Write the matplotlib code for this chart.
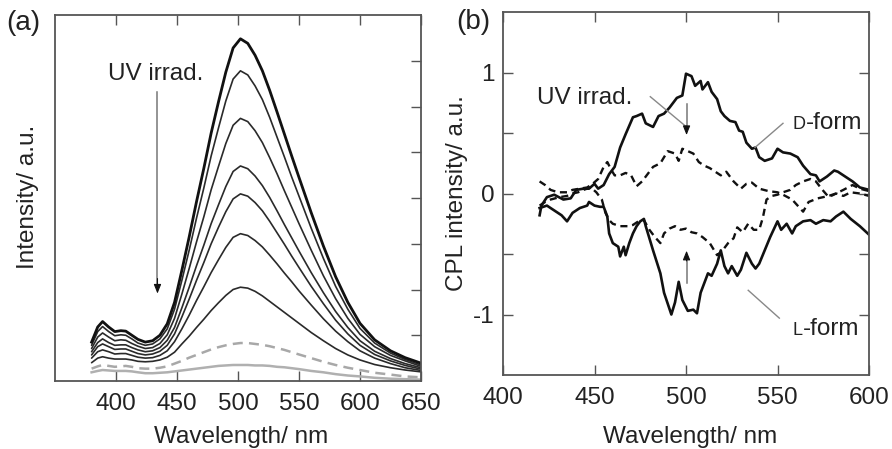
import matplotlib
matplotlib.use("Agg")
import matplotlib.pyplot as plt

plt.rcParams['font.family'] = ['Liberation Sans', 'DejaVu Sans']

# ---------------- Panel (a): emission spectra ----------------
WL_A = [380, 385, 389, 394, 399, 404, 408, 413, 418, 424, 430, 436, 442, 448, 454,
        460, 466, 472, 478, 484, 490, 496, 502, 508, 514, 520, 526, 532, 538, 544,
        550, 560, 570, 580, 590, 600, 612, 625, 637, 650]

I0 = [0.85, 1.18, 1.30, 1.18, 1.08, 1.10, 1.09, 1.00, 0.91, 0.85, 0.88, 1.00, 1.25, 1.72, 2.42,
      3.15, 3.92, 4.65, 5.42, 6.10, 6.75, 7.28, 7.48, 7.38, 7.12, 6.78, 6.35, 5.88, 5.40, 4.92,
      4.45, 3.68, 2.95, 2.28, 1.72, 1.26, 0.90, 0.66, 0.51, 0.39]
I1 = [0.78, 1.08, 1.19, 1.08, 0.99, 1.01, 1.00, 0.92, 0.83, 0.78, 0.81, 0.92, 1.14, 1.57, 2.20,
      2.86, 3.56, 4.22, 4.92, 5.53, 6.12, 6.60, 6.78, 6.69, 6.45, 6.15, 5.76, 5.33, 4.90, 4.46,
      4.04, 3.34, 2.68, 2.07, 1.57, 1.15, 0.83, 0.61, 0.47, 0.35]
I2 = [0.71, 0.96, 1.05, 0.96, 0.88, 0.90, 0.89, 0.82, 0.76, 0.71, 0.73, 0.82, 1.01, 1.37, 1.90,
      2.46, 3.04, 3.59, 4.18, 4.69, 5.19, 5.59, 5.74, 5.67, 5.47, 5.21, 4.88, 4.53, 4.16, 3.80,
      3.44, 2.86, 2.30, 1.80, 1.37, 1.02, 0.75, 0.56, 0.44, 0.32]
I3 = [0.64, 0.84, 0.92, 0.84, 0.78, 0.79, 0.79, 0.73, 0.68, 0.64, 0.66, 0.73, 0.89, 1.17, 1.60,
      2.05, 2.52, 2.97, 3.44, 3.85, 4.25, 4.58, 4.70, 4.64, 4.48, 4.27, 4.01, 3.72, 3.42, 3.13,
      2.84, 2.37, 1.93, 1.52, 1.17, 0.88, 0.65, 0.49, 0.38, 0.29]
I4 = [0.57, 0.75, 0.81, 0.75, 0.69, 0.70, 0.70, 0.65, 0.60, 0.57, 0.59, 0.65, 0.78, 1.03, 1.40,
      1.79, 2.20, 2.59, 3.00, 3.36, 3.70, 3.98, 4.09, 4.04, 3.90, 3.72, 3.49, 3.24, 2.99, 2.73,
      2.48, 2.07, 1.69, 1.33, 1.03, 0.78, 0.58, 0.44, 0.34, 0.26]
I5 = [0.50, 0.64, 0.68, 0.64, 0.59, 0.60, 0.60, 0.56, 0.52, 0.50, 0.51, 0.56, 0.66, 0.86, 1.14,
      1.44, 1.76, 2.06, 2.37, 2.65, 2.92, 3.14, 3.22, 3.18, 3.07, 2.93, 2.75, 2.56, 2.36, 2.17,
      1.97, 1.66, 1.36, 1.09, 0.86, 0.66, 0.50, 0.38, 0.29, 0.23]
I6 = [0.40, 0.50, 0.53, 0.50, 0.48, 0.48, 0.48, 0.46, 0.43, 0.42, 0.43, 0.46, 0.52, 0.63, 0.81,
      0.98, 1.17, 1.35, 1.54, 1.71, 1.87, 2.00, 2.05, 2.03, 1.96, 1.86, 1.74, 1.62, 1.50, 1.38,
      1.26, 1.06, 0.88, 0.71, 0.57, 0.46, 0.36, 0.29, 0.24, 0.20]
I7_DASHED = [0.27, 0.32, 0.35, 0.33, 0.31, 0.32, 0.33, 0.31, 0.28, 0.27, 0.27, 0.29, 0.32, 0.38, 0.44,
             0.51, 0.57, 0.63, 0.69, 0.74, 0.78, 0.81, 0.83, 0.83, 0.81, 0.79, 0.76, 0.72, 0.68, 0.63,
             0.58, 0.50, 0.42, 0.35, 0.29, 0.24, 0.18, 0.14, 0.10, 0.08]
I8_GRAY = [0.19, 0.22, 0.24, 0.23, 0.22, 0.22, 0.22, 0.21, 0.19, 0.17, 0.17, 0.18, 0.19, 0.21, 0.23,
           0.25, 0.27, 0.29, 0.31, 0.33, 0.34, 0.35, 0.35, 0.35, 0.34, 0.34, 0.33, 0.31, 0.30, 0.28,
           0.26, 0.22, 0.19, 0.15, 0.12, 0.10, 0.07, 0.05, 0.04, 0.03]

XTICKS_A = [400, 450, 500, 550, 600, 650]

# ---------------- Panel (b): CPL spectra ----------------
D_WL = [420, 421, 424, 428, 433, 437, 440, 444, 447, 450, 452, 455, 458, 461, 464, 467, 471, 473,
        476, 478, 482, 485, 488, 491, 495, 498, 500, 503, 505, 508, 509, 512, 514, 517, 519, 521,
        524, 527, 529, 531, 533, 536, 538, 540, 543, 547, 550, 553, 557, 561, 564, 568, 571, 573,
        577, 581, 583, 587, 591, 595, 600]
D_CPL = [-0.18, -0.10, -0.03, -0.01, -0.05, -0.04, 0.03, 0.04, 0.04, 0.08, 0.04, 0.07, 0.16, 0.22,
         0.38, 0.49, 0.63, 0.64, 0.66, 0.58, 0.55, 0.64, 0.66, 0.71, 0.79, 0.81, 0.99, 0.97, 0.89,
         0.93, 0.86, 0.92, 0.84, 0.78, 0.68, 0.64, 0.60, 0.59, 0.52, 0.51, 0.42, 0.37, 0.38, 0.30,
         0.27, 0.29, 0.37, 0.34, 0.33, 0.30, 0.23, 0.16, 0.15, 0.10, 0.14, 0.19, 0.18, 0.14, 0.10,
         0.05, 0.03]

L_WL = [420, 424, 428, 432, 435, 438, 442, 446, 447, 450, 453, 455, 457, 458, 460, 463, 464, 466,
        467, 469, 471, 473, 475, 477, 478, 482, 486, 488, 492, 494, 496, 498, 501, 504, 506, 508,
        510, 512, 514, 517, 519, 521, 523, 525, 528, 530, 533, 536, 538, 540, 543, 546, 550, 552,
        555, 558, 560, 564, 568, 571, 575, 579, 582, 586, 590, 595, 600]
L_CPL = [-0.12, -0.10, -0.14, -0.18, -0.23, -0.16, -0.12, -0.10, -0.07, -0.10, -0.11, -0.11, -0.19,
         -0.33, -0.41, -0.44, -0.52, -0.44, -0.51, -0.41, -0.33, -0.27, -0.23, -0.21, -0.27, -0.47,
         -0.66, -0.82, -1.00, -0.90, -0.73, -0.88, -0.97, -0.96, -0.99, -0.82, -0.74, -0.66, -0.68,
         -0.58, -0.47, -0.60, -0.66, -0.60, -0.68, -0.63, -0.49, -0.58, -0.62, -0.58, -0.47, -0.36,
         -0.23, -0.30, -0.25, -0.33, -0.27, -0.23, -0.22, -0.25, -0.22, -0.23, -0.19, -0.15, -0.21,
         -0.27, -0.34]

D_UV_WL = [420, 423, 426, 430, 435, 438, 442, 446, 449, 452, 455, 457, 459, 461, 464, 467, 470, 473,
           476, 478, 482, 486, 490, 494, 496, 498, 501, 504, 507, 510, 513, 516, 519, 522, 526, 530,
           533, 536, 540, 545, 550, 553, 558, 561, 564, 567, 572, 578, 582, 586, 591, 595, 600]
D_UV_CPL = [0.10, 0.07, 0.03, 0.01, 0.01, 0.03, 0.04, 0.05, 0.08, 0.12, 0.22, 0.26, 0.20, 0.15, 0.15,
            0.17, 0.15, 0.06, 0.10, 0.14, 0.22, 0.25, 0.35, 0.33, 0.27, 0.37, 0.35, 0.33, 0.26, 0.23,
            0.21, 0.18, 0.15, 0.18, 0.10, 0.04, 0.08, 0.09, 0.04, 0.02, 0.01, -0.01, -0.05, -0.10,
            -0.15, -0.07, -0.04, -0.02, 0.00, 0.03, 0.07, 0.04, 0.02]

L_UV_WL = [420, 423, 426, 431, 435, 438, 441, 444, 448, 451, 454, 456, 458, 460, 464, 468, 471, 474,
           477, 480, 483, 486, 488, 491, 494, 497, 500, 503, 506, 509, 513, 517, 520, 523, 526, 528,
           531, 534, 537, 540, 542, 544, 547, 550, 553, 557, 560, 564, 568, 571, 574, 578, 582, 586,
           590, 595, 600]
L_UV_CPL = [-0.10, -0.07, -0.05, -0.03, -0.02, 0.00, 0.01, 0.03, 0.05, 0.01, -0.05, -0.16, -0.22,
            -0.25, -0.27, -0.27, -0.26, -0.23, -0.22, -0.30, -0.36, -0.41, -0.33, -0.29, -0.27,
            -0.30, -0.29, -0.32, -0.33, -0.36, -0.41, -0.51, -0.47, -0.41, -0.37, -0.28, -0.32,
            -0.25, -0.30, -0.30, -0.20, -0.05, -0.02, -0.01, 0.01, 0.03, 0.07, 0.10, 0.12, 0.10,
            0.04, -0.03, 0.00, -0.02, 0.01, 0.00, -0.02]

XTICKS_B = [400, 450, 500, 550, 600]
YTICKS_B = [-1, -0.5, 0, 0.5, 1]
YLABELS_B = ['-1', '', '0', '', '1']

FS = 17.5
TXT = '#222222'
SPINE = '#555555'

fig = plt.figure(figsize=(8.92, 4.49), dpi=100)
ax1 = fig.add_axes([55 / 892, 1 - 381 / 449, 366 / 892, 366 / 449])
ax2 = fig.add_axes([503 / 892, 1 - 375 / 449, 366 / 892, 363 / 449])

# ---- panel (a)
black_series = [I1, I2, I3, I4, I5, I6]
for s in black_series:
    ax1.plot(WL_A, s, color='#2a2a2a', lw=1.2, solid_capstyle='round')
ax1.plot(WL_A, I0, color='#111111', lw=2.0)
ax1.plot(WL_A, I7_DASHED, color='#a8a8a8', lw=1.8, dashes=(4, 2.5))
ax1.plot(WL_A, I8_GRAY, color='#b0b0b0', lw=1.8)

ax1.set_xlim(350, 650)
ax1.set_ylim(0, 8)
ax1.set_xticks(XTICKS_A)
ax1.set_xticklabels([str(v) for v in XTICKS_A])
ax1.set_yticks(range(1, 8))
ax1.tick_params(axis='x', direction='in', length=7, width=1, colors=SPINE,
                labelcolor=TXT, labelsize=FS, top=True, bottom=True, pad=9)
ax1.tick_params(axis='y', direction='in', length=7, width=1, colors=SPINE,
                left=False, right=True, labelleft=False)
for sp in ax1.spines.values():
    sp.set_color(SPINE)
    sp.set_linewidth(1.3)

# UV arrow in (a)
ax1.plot([434, 434], [6.32, 2.1], color='#777777', lw=1.1)
ax1.annotate('', xy=(434, 1.85), xytext=(434, 2.3),
             arrowprops=dict(arrowstyle='-|>,head_length=0.55,head_width=0.22',
                             color='#111111', lw=0.8))
ax1.text(393.5, 6.72, 'UV irrad.', fontsize=FS, color=TXT, ha='left', va='center')

# ---- panel (b)
ax2.plot(D_WL, D_CPL, color='#111111', lw=1.9)
ax2.plot(L_WL, L_CPL, color='#111111', lw=1.9)
ax2.plot(D_UV_WL, D_UV_CPL, color='#111111', lw=1.7, dashes=(3, 2))
ax2.plot(L_UV_WL, L_UV_CPL, color='#111111', lw=1.7, dashes=(3, 2))

ax2.set_xlim(400, 600)
ax2.set_ylim(-1.5, 1.5)
ax2.set_xticks(XTICKS_B)
ax2.set_xticklabels([str(v) for v in XTICKS_B])
ax2.set_yticks(YTICKS_B)
ax2.set_yticklabels(YLABELS_B)
ax2.tick_params(axis='x', direction='in', length=7, width=1, colors=SPINE,
                labelcolor=TXT, labelsize=FS, top=True, bottom=True, pad=9)
ax2.tick_params(axis='y', direction='in', length=7, width=1, colors=SPINE,
                labelcolor=TXT, labelsize=FS, left=True, right=True, pad=6)
for sp in ax2.spines.values():
    sp.set_color(SPINE)
    sp.set_linewidth(1.3)

# annotations in (b)
ax2.text(418.5, 0.79, 'UV irrad.', fontsize=FS, color=TXT, ha='left', va='center')
ax2.plot([480.5, 499.5], [0.80, 0.56], color='#888888', lw=1.0)
ax2.plot([500.3, 500.3], [0.74, 0.55], color='#777777', lw=1.1)
ax2.annotate('', xy=(500.3, 0.46), xytext=(500.3, 0.58),
             arrowprops=dict(arrowstyle='-|>,head_length=0.55,head_width=0.22',
                             color='#111111', lw=0.8))
ax2.plot([500.3, 500.3], [-0.74, -0.56], color='#777777', lw=1.1)
ax2.annotate('', xy=(500.3, -0.45), xytext=(500.3, -0.58),
             arrowprops=dict(arrowstyle='-|>,head_length=0.55,head_width=0.22',
                             color='#111111', lw=0.8))

ax2.plot([553, 537.7], [0.58, 0.38], color='#888888', lw=1.0)
ax2.plot([534, 551], [-0.80, -1.03], color='#888888', lw=1.0)

# small-caps "D-form" and "L-form"
SC = FS * 0.74
for letter, yb in (('D', 0.53), ('L', -1.17)):
    ax2.text(558.0, yb, letter, fontsize=SC, color=TXT, ha='left', va='baseline')
    w = (0.722 if letter == 'D' else 0.556) * SC
    ax2.annotate('-form', xy=(558.0, yb), xytext=(w + 0.3, 0), textcoords='offset points',
                 fontsize=FS, color=TXT, ha='left', va='baseline')

# labels
fig.text(28 / 892, 1 - 197 / 449, 'Intensity/ a.u.', rotation=90, fontsize=FS,
         color=TXT, ha='center', va='center')
fig.text(241 / 892, 1 - 437 / 449, 'Wavelength/ nm', fontsize=FS, color=TXT,
         ha='center', va='center')
fig.text(457 / 892, 1 - 193 / 449, 'CPL intensity/ a.u.', rotation=90, fontsize=FS,
         color=TXT, ha='center', va='center')
fig.text(690 / 892, 1 - 437 / 449, 'Wavelength/ nm', fontsize=FS, color=TXT,
         ha='center', va='center')
fig.text(6 / 892, 1 - 23 / 449, '(a)', fontsize=20, color=TXT, ha='left', va='center')
fig.text(456 / 892, 1 - 22 / 449, '(b)', fontsize=20, color=TXT, ha='left', va='center')

fig.savefig('out.png', dpi=100, facecolor='white')
